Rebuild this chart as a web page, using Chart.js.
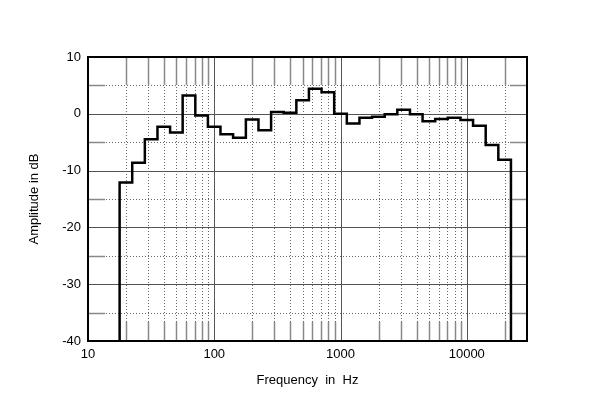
<!DOCTYPE html>
<html>
<head>
<meta charset="utf-8">
<script src="https://cdn.jsdelivr.net/npm/chart.js@4.4.0/dist/chart.umd.min.js"></script>
<style>
  html, body { margin: 0; padding: 0; background: #fff; }
  #wrap { width: 600px; height: 405px; }
</style>
</head>
<body>
<div id="wrap"><canvas id="grafico" width="600" height="405"></canvas></div>
<script>
// third-octave band edges (Hz) and level in each band (dB)
const bandEdges = [17.8, 22.4, 28.2, 35.5, 44.7, 56.2, 70.8, 89.1, 112, 141, 178, 224, 282, 355, 447, 562,
  708, 891, 1122, 1413, 1778, 2239, 2818, 3548, 4467, 5623, 7079, 8913, 11220, 14125, 17783, 22387];
const levels = [-12.1, -8.6, -4.5, -2.3, -3.3, 3.2, -0.3, -2.3, -3.6, -4.2, -1.0, -2.9, 0.3, 0.2, 2.4, 4.4,
  3.8, 0.0, -1.7, -0.7, -0.5, -0.1, 0.7, -0.1, -1.3, -0.9, -0.7, -1.1, -2.1, -5.5, -8.1];

const xTickLabels = [10, 100, 1000, 10000];
const xMinorLines = [20, 30, 40, 50, 60, 70, 80, 90, 200, 300, 400, 500, 600, 700, 800, 900,
  2000, 3000, 4000, 5000, 6000, 7000, 8000, 9000, 20000];
const yTickLabels = [10, 0, -10, -20, -30, -40];
const yHalfLines = [5, -5, -15, -25, -35];

const xMin = 10, xMax = 30000, yMin = -40, yMax = 10;

// each point holds its level until the next band edge
let pontos = [{ x: bandEdges[0], y: yMin }];
levels.forEach((v, i) => pontos.push({ x: bandEdges[i], y: v }));
pontos.push({ x: bandEdges[bandEdges.length - 1], y: levels[levels.length - 1] });
pontos.push({ x: bandEdges[bandEdges.length - 1], y: yMin });

const grade = {
  id: 'grade',
  beforeDatasetsDraw(chart) {
    const { ctx, chartArea: a, scales: { x, y } } = chart;
    ctx.save();
    ctx.lineWidth = 1;
    // dotted minor lines with solid stubs at the edges
    xMinorLines.forEach(f => {
      const px = Math.round(x.getPixelForValue(f)) + 0.5;
      ctx.strokeStyle = '#666';
      ctx.setLineDash([1, 2]);
      ctx.beginPath(); ctx.moveTo(px, a.top); ctx.lineTo(px, a.bottom); ctx.stroke();
      ctx.setLineDash([]);
      ctx.strokeStyle = '#888';
      ctx.lineWidth = 1.5;
      ctx.beginPath(); ctx.moveTo(px, a.top); ctx.lineTo(px, a.top + 28); ctx.stroke();
      ctx.beginPath(); ctx.moveTo(px, a.bottom - 19); ctx.lineTo(px, a.bottom); ctx.stroke();
      ctx.lineWidth = 1;
    });
    yHalfLines.forEach(v => {
      const py = Math.round(y.getPixelForValue(v)) + 0.5;
      ctx.strokeStyle = '#666';
      ctx.setLineDash([1, 2]);
      ctx.beginPath(); ctx.moveTo(a.left, py); ctx.lineTo(a.right, py); ctx.stroke();
      ctx.setLineDash([]);
      ctx.strokeStyle = '#888';
      ctx.lineWidth = 1.5;
      ctx.beginPath(); ctx.moveTo(a.left, py); ctx.lineTo(a.left + 17, py); ctx.stroke();
      ctx.beginPath(); ctx.moveTo(a.right - 17, py); ctx.lineTo(a.right, py); ctx.stroke();
      ctx.lineWidth = 1;
    });
    // solid major lines
    ctx.strokeStyle = '#555';
    xTickLabels.forEach(f => {
      const px = Math.round(x.getPixelForValue(f)) + 0.5;
      ctx.beginPath(); ctx.moveTo(px, a.top); ctx.lineTo(px, a.bottom); ctx.stroke();
    });
    yTickLabels.forEach(v => {
      const py = Math.round(y.getPixelForValue(v)) + 0.5;
      ctx.beginPath(); ctx.moveTo(a.left, py); ctx.lineTo(a.right, py); ctx.stroke();
    });
    ctx.restore();
  },
  afterDatasetsDraw(chart) {
    const { ctx, chartArea: a } = chart;
    ctx.save();
    ctx.strokeStyle = '#000';
    ctx.lineWidth = 2;
    ctx.strokeRect(a.left, a.top, a.right - a.left, a.bottom - a.top);
    ctx.restore();
  }
};

const fonte = { family: 'Arial, "Liberation Sans", sans-serif', size: 13 };

const grafico = new Chart(document.getElementById('grafico'), {
  type: 'line',
  data: {
    datasets: [{
      data: pontos,
      stepped: 'before',
      borderColor: '#000',
      borderWidth: 2.5,
      pointRadius: 0,
      fill: false
    }]
  },
  options: {
    responsive: false,
    animation: false,
    layout: { padding: { top: 57, right: 73, bottom: 0, left: 0 } },
    plugins: { legend: { display: false }, tooltip: { enabled: false } },
    scales: {
      x: {
        type: 'logarithmic',
        min: xMin,
        max: xMax,
        afterBuildTicks: (s) => { s.ticks = xTickLabels.map(v => ({ value: v })); },
        afterFit: (s) => { s.height = 64; },
        ticks: {
          autoSkip: false,
          maxRotation: 0,
          padding: 6,
          color: '#000',
          font: fonte,
          callback: (v) => String(v)
        },
        grid: { display: false, drawTicks: false },
        border: { display: false },
        title: { display: true, text: 'Frequency  in  Hz', color: '#000', font: fonte, padding: { top: 0, bottom: 17 } }
      },
      y: {
        min: yMin,
        max: yMax,
        afterBuildTicks: (s) => { s.ticks = yTickLabels.map(v => ({ value: v })); },
        afterFit: (s) => { s.width = 88; },
        ticks: { padding: 7, color: '#000', font: fonte },
        grid: { display: false, drawTicks: false },
        border: { display: false },
        title: { display: true, text: 'Amplitude in dB', color: '#000', font: fonte, padding: { top: 27, bottom: 0 } }
      }
    }
  },
  plugins: [grade]
});
</script>
</body>
</html>
